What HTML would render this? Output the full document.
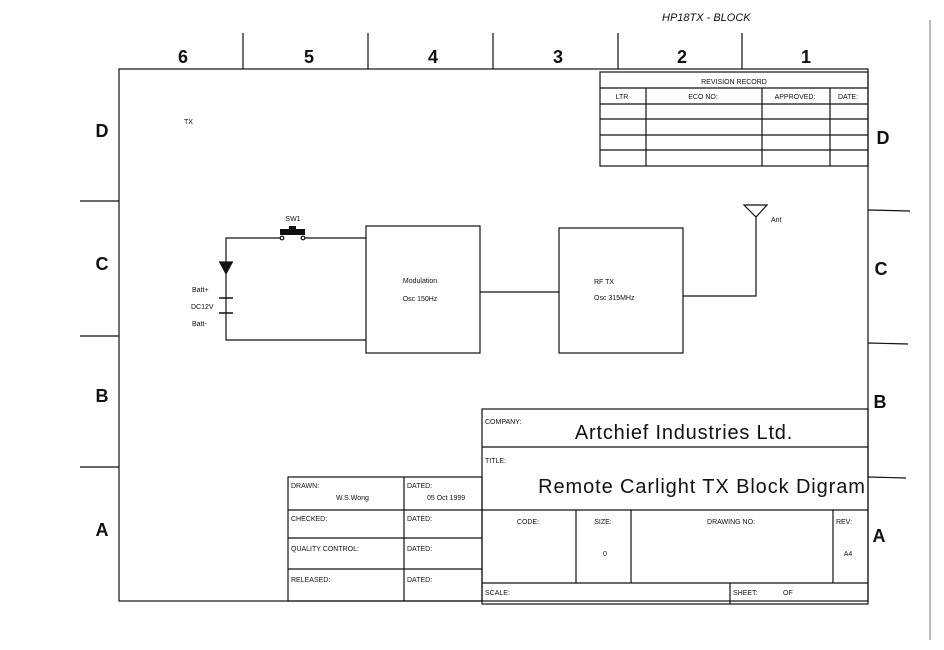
<!DOCTYPE html>
<html><head><meta charset="utf-8"><style>
html,body{margin:0;padding:0;background:#fff;}
svg{display:block;}
text{font-family:"Liberation Sans",sans-serif;fill:#111;}
</style></head><body>
<svg width="944" height="650" viewBox="0 0 944 650" xmlns="http://www.w3.org/2000/svg">
<g stroke="#111" stroke-width="1.2" fill="none">
<rect x="119" y="69" width="749" height="532"/>
<line x1="243" y1="33" x2="243" y2="69"/><line x1="368" y1="33" x2="368" y2="69"/>
<line x1="493" y1="33" x2="493" y2="69"/><line x1="618" y1="33" x2="618" y2="69"/>
<line x1="742" y1="33" x2="742" y2="69"/>
<line x1="80" y1="201" x2="119" y2="201"/><line x1="80" y1="336" x2="119" y2="336"/><line x1="80" y1="467" x2="119" y2="467"/>
<line x1="868" y1="210" x2="910" y2="211"/><line x1="868" y1="343" x2="908" y2="344"/><line x1="868" y1="477" x2="906" y2="478"/>
<line x1="930" y1="20" x2="930" y2="640" stroke-width="0.8" stroke="#555"/>
<rect x="600" y="72" width="268" height="94"/>
<line x1="600" y1="88" x2="868" y2="88"/><line x1="600" y1="104" x2="868" y2="104"/>
<line x1="600" y1="119" x2="868" y2="119"/><line x1="600" y1="135" x2="868" y2="135"/>
<line x1="600" y1="150" x2="868" y2="150"/>
<line x1="646" y1="88" x2="646" y2="166"/><line x1="762" y1="88" x2="762" y2="166"/><line x1="830" y1="88" x2="830" y2="166"/>
<polyline points="280,238 226,238 226,340 366,340"/>
<line x1="305" y1="238" x2="366" y2="238"/>
<circle cx="282" cy="238" r="1.8"/><circle cx="303" cy="238" r="1.8"/>
<rect x="366" y="226" width="114" height="127"/>
<line x1="480" y1="292" x2="559" y2="292"/>
<rect x="559" y="228" width="124" height="125"/>
<polyline points="683,296 756,296 756,217"/>
<polygon points="744,205 767,205 756,217"/>
<line x1="219" y1="262" x2="233" y2="262"/>
<line x1="219" y1="298" x2="233" y2="298" stroke-width="1.5"/>
<line x1="219" y1="313" x2="233" y2="313" stroke-width="1.5"/>
<rect x="482" y="409" width="386" height="195"/>
<line x1="482" y1="447" x2="868" y2="447"/><line x1="482" y1="510" x2="868" y2="510"/>
<line x1="482" y1="583" x2="868" y2="583"/>
<line x1="576" y1="510" x2="576" y2="583"/><line x1="631" y1="510" x2="631" y2="583"/>
<line x1="833" y1="510" x2="833" y2="583"/><line x1="730" y1="583" x2="730" y2="604"/>
<rect x="288" y="477" width="194" height="124"/>
<line x1="288" y1="510" x2="482" y2="510"/><line x1="288" y1="538" x2="482" y2="538"/>
<line x1="288" y1="569" x2="482" y2="569"/><line x1="404" y1="477" x2="404" y2="601"/>
</g>
<polygon points="219,262 233,262 226,275" fill="#111"/>
<rect x="280" y="229" width="25" height="6" fill="#111"/><rect x="289" y="226" width="7" height="4" fill="#111"/>
<g font-size="18" text-anchor="middle" font-weight="bold">
<text x="183" y="63">6</text><text x="309" y="63">5</text><text x="433" y="63">4</text>
<text x="558" y="63">3</text><text x="682" y="63">2</text><text x="806" y="63">1</text>
<text x="102" y="137">D</text><text x="102" y="270">C</text><text x="102" y="402">B</text><text x="102" y="536">A</text>
<text x="883" y="144">D</text><text x="881" y="275">C</text><text x="880" y="408">B</text><text x="879" y="542">A</text>
</g>
<text x="662" y="21" font-size="11" font-style="italic">HP18TX - BLOCK</text>
<g font-size="7">
<text x="734" y="84" text-anchor="middle">REVISION RECORD</text>
<text x="622" y="99" text-anchor="middle">LTR</text><text x="703" y="99" text-anchor="middle">ECO NO:</text>
<text x="795" y="99" text-anchor="middle">APPROVED:</text><text x="848" y="99" text-anchor="middle">DATE:</text>
<text x="184" y="124">TX</text>
<text x="293" y="221" text-anchor="middle">SW1</text>
<text x="192" y="292">Batt+</text><text x="191" y="309">DC12V</text><text x="192" y="326">Batt-</text>
<text x="420" y="283" text-anchor="middle">Modulation</text><text x="420" y="301" text-anchor="middle">Osc 150Hz</text>
<text x="594" y="284">RF TX</text><text x="594" y="300">Osc 315MHz</text>
<text x="771" y="222">Ant</text>
<text x="485" y="424">COMPANY:</text><text x="485" y="463">TITLE:</text>
<text x="528" y="524" text-anchor="middle">CODE:</text><text x="603" y="524" text-anchor="middle">SIZE:</text>
<text x="731" y="524" text-anchor="middle">DRAWING NO:</text><text x="844" y="524" text-anchor="middle">REV:</text>
<text x="605" y="556" text-anchor="middle">0</text><text x="848" y="556" text-anchor="middle">A4</text>
<text x="485" y="595">SCALE:</text><text x="733" y="595">SHEET:</text><text x="783" y="595">OF</text>
<text x="291" y="488">DRAWN:</text><text x="336" y="500">W.S.Wong</text>
<text x="407" y="488">DATED:</text><text x="427" y="500">05 Oct 1999</text>
<text x="291" y="521">CHECKED:</text><text x="407" y="521">DATED:</text>
<text x="291" y="551">QUALITY CONTROL:</text><text x="407" y="551">DATED:</text>
<text x="291" y="582">RELEASED:</text><text x="407" y="582">DATED:</text>
</g>
<text x="684" y="439" font-size="20" text-anchor="middle" letter-spacing="0.8">Artchief Industries Ltd.</text>
<text x="702" y="493" font-size="20" text-anchor="middle" letter-spacing="0.9">Remote Carlight TX Block Digram</text>
</svg>
</body></html>
